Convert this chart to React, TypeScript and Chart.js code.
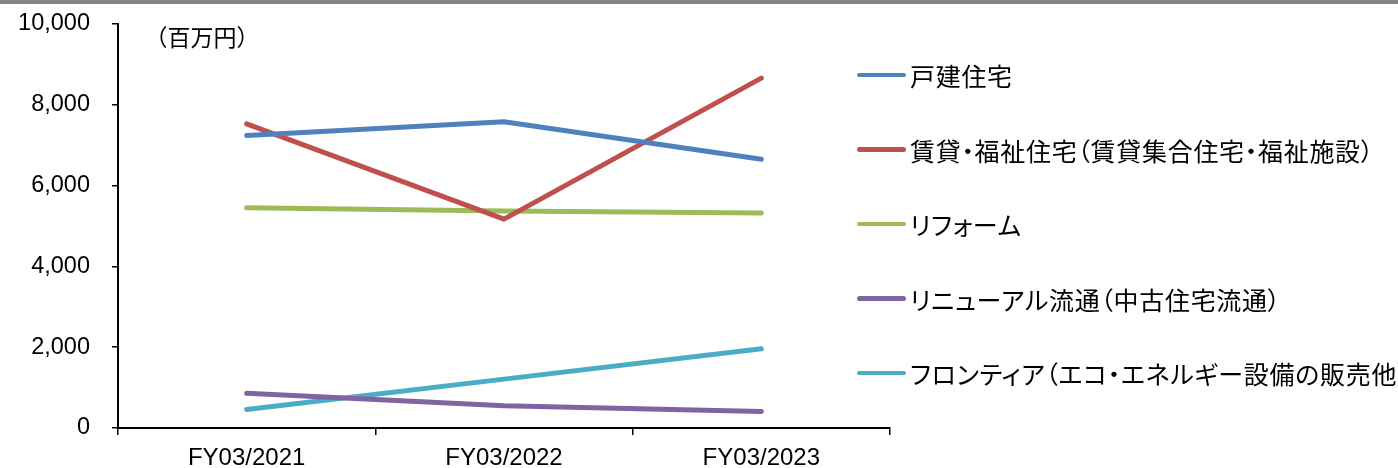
import React, { useEffect, useRef } from "react";
import { Chart, registerables } from "chart.js";

Chart.register(...registerables);

const categories = ["FY03/2021", "FY03/2022", "FY03/2023"];
const detachedHouses = [7240, 7580, 6650];
const rentalWelfare = [7530, 5170, 8660];
const reform = [5450, 5370, 5320];
const renewal = [860, 550, 410];
const frontier = [460, 1210, 1960];
const seriesNames = [
  "戸建住宅",
  "賃貸・福祉住宅（賃貸集合住宅・福祉施設）",
  "リフォーム",
  "リニューアル流通（中古住宅流通）",
  "フロンティア（エコ・エネルギー設備の販売他）",
];
const yTicks = [0, 2000, 4000, 6000, 8000, 10000];
const unitLabel = "（百万円）";

const COLORS = ["#4F81BD", "#C0504D", "#9BBB59", "#8064A2", "#4BACC6"];
const W = 1398;
const H = 468;

export default function App() {
  const ref = useRef<HTMLCanvasElement | null>(null);
  useEffect(() => {
    const canvas = ref.current;
    if (!canvas) return;
    const series = [detachedHouses, rentalWelfare, reform, renewal, frontier];
    const decor = {
      id: "decor",
      beforeDraw(chart: any) {
        const ctx = chart.ctx;
        ctx.save();
        ctx.fillStyle = "#ffffff";
        ctx.fillRect(0, 0, W, H);
        ctx.fillStyle = "#858585";
        ctx.fillRect(0, 0, W, 4);
        ctx.restore();
      },
      afterDraw(chart: any) {
        const ctx = chart.ctx;
        ctx.save();
        ctx.fillStyle = "#000";
        ctx.font = '23px "Noto Sans CJK JP"';
        ctx.textAlign = "center";
        ctx.textBaseline = "middle";
        ctx.fillText(unitLabel, 202, 37);
        ctx.restore();
      },
    };
    const chart = new Chart(canvas, {
      type: "line",
      data: {
        labels: categories,
        datasets: series.map((d, i) => ({
          label: seriesNames[i],
          data: d,
          borderColor: COLORS[i],
          backgroundColor: COLORS[i],
          borderWidth: 5,
          borderCapStyle: "round",
          borderJoinStyle: "round",
          pointRadius: 0,
          tension: 0,
          fill: false,
        })),
      },
      options: {
        animation: false,
        responsive: false,
        devicePixelRatio: 1,
        layout: { padding: { left: 0, right: 508, top: 24, bottom: 0 } },
        plugins: { legend: { display: false }, tooltip: { enabled: false } },
        scales: {
          x: {
            offset: true,
            grid: {
              offset: true,
              drawOnChartArea: false,
              drawTicks: true,
              tickLength: 7,
              color: "#000",
              lineWidth: 1.5,
            },
            border: { display: true, color: "#000", width: 2 },
            ticks: {
              color: "#000",
              font: { family: '"Liberation Sans", Arial', size: 24 },
              padding: 9,
              maxRotation: 0,
              autoSkip: false,
            },
            afterFit: (s: any) => {
              s.height = 40;
              s.paddingLeft = 0;
              s.paddingRight = 0;
            },
          },
          y: {
            min: 0,
            max: 10000,
            afterBuildTicks: (s: any) => {
              s.ticks = yTicks.map((v) => ({ value: v }));
            },
            grid: {
              drawOnChartArea: false,
              drawTicks: true,
              tickLength: 6,
              color: "#000",
              lineWidth: 1.5,
            },
            border: { display: true, color: "#000", width: 2 },
            ticks: {
              color: "#000",
              font: { family: '"Liberation Sans", Arial', size: 23.5 },
              padding: 22,
              callback: (v: any) => Number(v).toLocaleString("en-US"),
            },
            afterFit: (s: any) => {
              s.width = 118;
              s.paddingTop = 0;
              s.paddingBottom = 0;
            },
          },
        },
      },
      plugins: [decor],
    });
    return () => chart.destroy();
  }, []);

  return (
    <div
      style={{
        position: "fixed",
        left: 0,
        top: 0,
        width: W,
        height: H,
        overflow: "hidden",
        background: "#fff",
      }}
    >
      <canvas ref={ref} width={W} height={H} style={{ display: "block" }} />
      {seriesNames.map((name, i) => (
        <div
          key={name}
          style={{
            position: "absolute",
            left: 857,
            top: 75 + i * 74.5 - 15,
            height: 30,
            display: "flex",
            alignItems: "center",
            whiteSpace: "nowrap",
          }}
        >
          <span
            style={{
              display: "inline-block",
              width: 49,
              height: 4.5,
              borderRadius: 2.5,
              background: COLORS[i],
              marginRight: 4,
            }}
          />
          <span
            style={{
              fontFamily: '"Noto Sans CJK JP"',
              fontSize: 25,
              lineHeight: "30px",
              color: "#000",
              fontFeatureSettings: '"palt"',
              letterSpacing: "0.7px",
            }}
          >
            {name}
          </span>
        </div>
      ))}
    </div>
  );
}
